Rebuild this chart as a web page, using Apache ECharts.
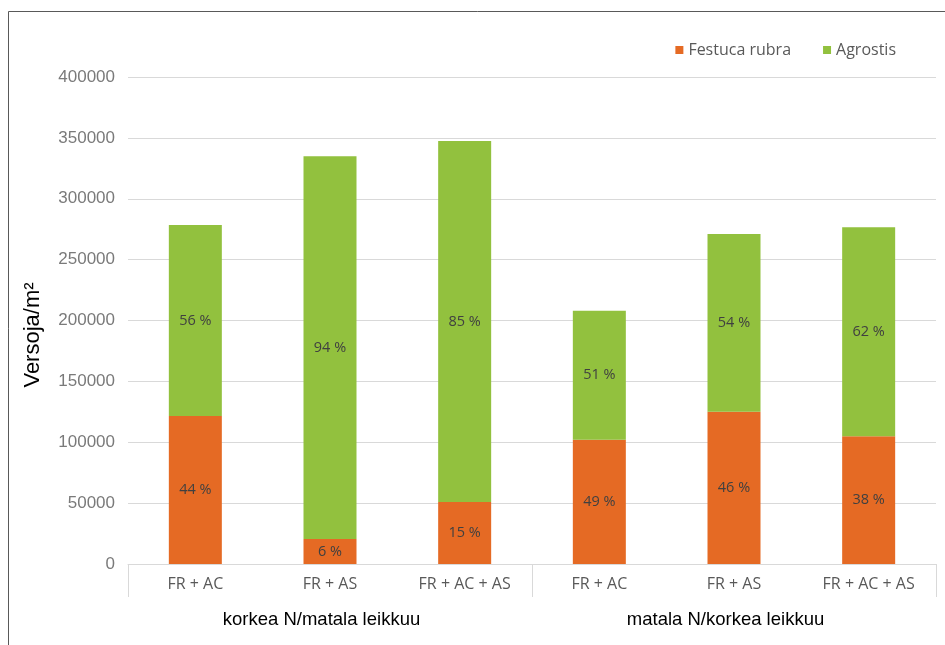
<!DOCTYPE html>
<html>
<head>
<meta charset="utf-8">
<script src="https://cdn.jsdelivr.net/npm/echarts@6/dist/echarts.min.js"></script>
<style>
  html, body { margin: 0; padding: 0; background: #fff; }
  #chart { width: 945px; height: 645px; }
</style>
</head>
<body>
<div id="chart"></div>
<script>
// Stacked shoot counts per seed mix, two treatment groups (two-level category axis).
const categories = ["FR + AC", "FR + AS", "FR + AC + AS", "FR + AC", "FR + AS", "FR + AC + AS"];
const groups = ["korkea N/matala leikkuu", "matala N/korkea leikkuu"];
const festuca = [121500, 20500, 51000, 102000, 125000, 105000];
const agrostis = [157000, 314500, 296500, 106000, 146000, 171500];
const festucaPct = ["44 %", "6 %", "15 %", "49 %", "46 %", "38 %"];
const agrostisPct = ["56 %", "94 %", "85 %", "51 %", "54 %", "62 %"];
const yTicks = { min: 0, max: 400000, step: 50000 };

const NARROW = "'Open Sans', 'DejaVu Sans', sans-serif";
const ARIAL = "'Liberation Sans', Arial, sans-serif";
const GREY = "#595959";
const LINE = "#d9d9d9";

const chart = echarts.init(document.getElementById("chart"));

const pctLabel = (arr) => ({
  show: true, position: "inside", color: "#404040", fontSize: 14.5, fontFamily: NARROW,
  formatter: (p) => arr[p.dataIndex],
});

chart.setOption({
  animation: false,
  grid: { left: 128, right: 9, top: 77, bottom: 81 },
  legend: {
    right: 44, top: 37, icon: "rect", itemWidth: 8, itemHeight: 8, itemGap: 32,
    textStyle: { color: GREY, fontSize: 16, fontFamily: NARROW },
    data: ["Festuca rubra", "Agrostis"],
  },
  xAxis: [
    {
      type: "category", data: categories,
      axisLine: { lineStyle: { color: LINE } }, axisTick: { show: false },
      axisLabel: { color: GREY, fontSize: 16, fontFamily: NARROW, margin: 12, interval: 0 },
    },
    {
      type: "category", data: groups, position: "bottom",
      axisLine: { show: false },
      axisTick: { show: true, length: 33, interval: 0, lineStyle: { color: LINE } },
      // group captions sit a little left of the group centre in the original
      axisLabel: { color: "#000", fontSize: 18.5, fontFamily: ARIAL, margin: 46, interval: 0,
        padding: [0, 17, 0, 0] },
    },
  ],
  yAxis: {
    type: "value", min: yTicks.min, max: yTicks.max, interval: yTicks.step,
    axisLine: { show: false }, axisTick: { show: false },
    axisLabel: { color: "#7a7a7a", fontSize: 17, fontFamily: ARIAL, margin: 13, formatter: (v) => String(v) },
    splitLine: { lineStyle: { color: LINE } },
  },
  graphic: [
    { type: "rect", shape: { x: 8.5, y: 11.5, width: 1000, height: 700 }, silent: true,
      style: { fill: "none", stroke: "#595959", lineWidth: 1 } },
    { type: "text", x: 33, y: 335, rotation: Math.PI / 2, silent: true,
      style: { text: "Versoja/m²", fill: "#000", fontSize: 22, fontFamily: ARIAL,
        align: "center", verticalAlign: "middle" } },
  ],
  series: [
    { name: "Festuca rubra", type: "bar", stack: "total", barWidth: 53, xAxisIndex: 0,
      itemStyle: { color: "#E56A24" }, label: pctLabel(festucaPct), data: festuca },
    { name: "Agrostis", type: "bar", stack: "total", barWidth: 53, xAxisIndex: 0,
      itemStyle: { color: "#92C13E" }, label: pctLabel(agrostisPct), data: agrostis },
  ],
});
</script>
</body>
</html>
